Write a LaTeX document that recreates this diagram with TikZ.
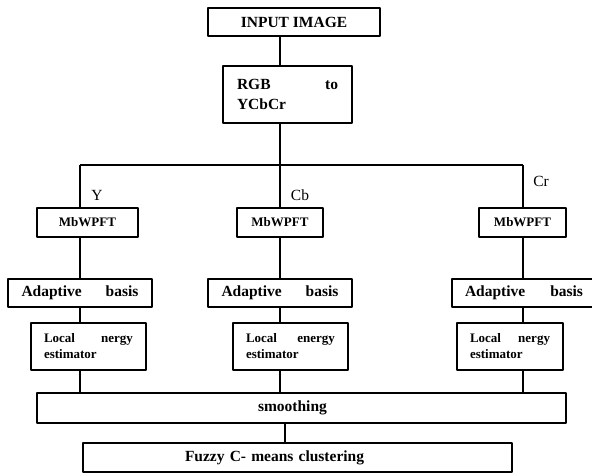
\documentclass[tikz,border=0pt]{standalone}
\usepackage{fontspec}
\setmainfont{Liberation Serif}
\tikzset{
	box/.style={draw, line width=1.6pt, inner sep=0pt, font=\bfseries\fontsize{15.5}{20}\selectfont},
	smallbox/.style={box, font=\bfseries\fontsize{13}{16}\selectfont},
	link/.style={line width=1.2pt},
	chan/.style={font=\fontsize{15.5}{18}\selectfont},
}
\begin{document}
\begin{tikzpicture}[x=1pt, y=-1pt, line join=round]
		\useasboundingbox (0,0) rectangle (592,475);
		\coordinate (yTop) at (80,165);
		\coordinate (split) at (280,165);
		\coordinate (crTop) at (523,165);
		\coordinate (sm) at (285,0);
		\node[box, minimum width=172pt, minimum height=28pt] (inp) at (294,22) {INPUT IMAGE};
		\node[box, text width=101pt, inner xsep=14pt, minimum height=57pt, align=left] (rgb) at (287.5,94.5) {RGB\hfill to\\YCbCr};
		\node[smallbox, minimum width=101pt, minimum height=29pt] (mbY) at (87.5,222.5) {MbWPFT};
		\node[smallbox, minimum width=86pt, minimum height=29pt] (mbCb) at (280,222.5) {MbWPFT};
		\node[smallbox, minimum width=87pt, minimum height=29pt] (mbCr) at (522.5,222.5) {MbWPFT};
		\node[box, text width=117pt, inner xsep=13.5pt, minimum height=28pt, align=left] (adY) at (80,293) {Adaptive\hfill basis};
		\node[box, text width=117pt, inner xsep=13.5pt, minimum height=28pt, align=left] (adCb) at (280,293) {Adaptive\hfill basis};
		\node[box, text width=118pt, inner xsep=13pt, minimum height=28pt, align=left] (adCr) at (524,293) {Adaptive\hfill basis\hspace*{13pt}};
		\node[smallbox, text width=89pt, inner xsep=13pt, minimum height=47pt, align=left] (loY) at (88.5,346.5) {Local\hfill nergy\\estimator};
		\node[smallbox, text width=89pt, inner xsep=13pt, minimum height=47pt, align=left] (loCb) at (290.5,346.5) {Local\hfill energy\\estimator};
		\node[smallbox, text width=80pt, inner xsep=13pt, minimum height=47pt, align=left] (loCr) at (510,346.5) {Local\hfill nergy\\estimator};
		\node[box, text width=501pt, inner xsep=14pt, minimum height=30pt, align=left] (smooth) at (301.5,408) {\hspace*{207pt}smoothing};
		\node[box, text width=401pt, inner xsep=14pt, minimum height=29pt, align=left] (fuzzy) at (297.5,457.5) {\hspace*{88pt}Fuzzy C- means clustering};
		\node[chan] (lY) at (97,195) {Y};
		\node[chan] (lCb) at (300,195) {Cb};
		\node[chan] (lCr) at (541,181) {Cr};
		\draw[link] (inp.south -| split) -- (rgb.north -| split);
		\draw[link] (rgb.south -| split) -- (split);
		\draw[link] (yTop) -- (crTop);
		\draw[link] (yTop) -- (mbY.north -| yTop);
		\draw[link] (split) -- (mbCb.north -| split);
		\draw[link] (crTop) -- (mbCr.north -| crTop);
		\draw[link] (mbY.south -| yTop) -- (adY.north -| yTop);
		\draw[link] (mbCb.south -| split) -- (adCb.north -| split);
		\draw[link] (mbCr.south -| crTop) -- (adCr.north -| crTop);
		\draw[link] (adY.south -| yTop) -- (loY.north -| yTop);
		\draw[link] (adCb.south -| split) -- (loCb.north -| split);
		\draw[link] (adCr.south -| crTop) -- (loCr.north -| crTop);
		\draw[link] (loY.south -| yTop) -- (smooth.north -| yTop);
		\draw[link] (loCb.south -| split) -- (smooth.north -| split);
		\draw[link] (loCr.south -| crTop) -- (smooth.north -| crTop);
		\draw[link] (smooth.south -| sm) -- (fuzzy.north -| sm);
\end{tikzpicture}
\end{document}
